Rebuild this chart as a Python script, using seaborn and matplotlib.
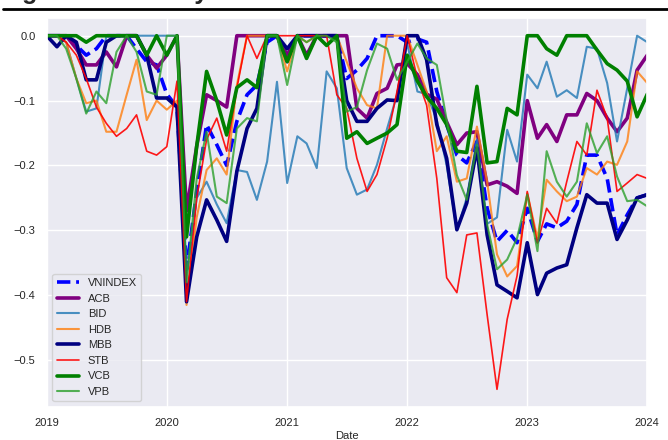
import matplotlib
matplotlib.use("Agg")
import matplotlib.pyplot as plt
import matplotlib.dates as mdates
from matplotlib.lines import Line2D
import seaborn as sns
import pandas as pd

sns.set_theme(style="darkgrid")
plt.rcParams["font.family"] = ["Liberation Sans", "DejaVu Sans"]

dates = pd.date_range("2019-01-01", "2024-01-01", freq="MS")

vnindex = [0, 0, 0, -0.015, -0.03, -0.02, 0, 0, 0, -0.02, -0.04, -0.045,
           -0.09, -0.11, -0.36, -0.24, -0.137, -0.168, -0.2, -0.132, -0.091, -0.076, -0.01, 0,
           -0.04, 0, 0, 0, 0, 0, -0.066, -0.053, -0.035, 0, 0, 0,
           -0.01, -0.005, -0.01, -0.086, -0.137, -0.184, -0.196, -0.163, -0.266, -0.317, -0.3, -0.319,
           -0.266, -0.317, -0.29, -0.296, -0.286, -0.26, -0.184, -0.184, -0.22, -0.307, -0.276, -0.25,
           -0.245]
acb = [0, 0, 0, -0.02, -0.045, -0.045, -0.025, -0.048, 0, 0, -0.03, -0.05,
       -0.03, 0, -0.27, -0.17, -0.091, -0.1, -0.11, 0, 0, 0, 0, 0,
       -0.03, 0, -0.03, 0, 0, 0, 0, -0.112, -0.127, -0.089, -0.081, -0.045,
       -0.043, -0.06, -0.09, -0.098, -0.133, -0.168, -0.15, -0.148, -0.23, -0.225, -0.232, -0.243,
       -0.1, -0.158, -0.137, -0.163, -0.122, -0.122, -0.089, -0.1, -0.127, -0.148, -0.127, -0.053,
       -0.03]
bid = [0, 0, -0.01, -0.066, -0.117, -0.112, 0, 0, 0, 0, 0, 0,
       0, 0, -0.37, -0.25, -0.225, -0.26, -0.289, -0.207, -0.21, -0.253, -0.194, -0.071,
       -0.227, -0.155, -0.166, -0.204, -0.055, -0.081, -0.204, -0.245, -0.237, -0.199, -0.143, -0.091,
       -0.012, -0.086, -0.09, -0.13, -0.2, -0.3, -0.25, -0.16, -0.29, -0.28, -0.145, -0.194,
       -0.06, -0.081, -0.04, -0.094, -0.084, -0.096, -0.017, -0.02, -0.073, -0.163, -0.081, 0,
       -0.01]
hdb = [0, 0, -0.01, -0.066, -0.104, -0.1, -0.148, -0.148, -0.091, -0.037, -0.13, -0.1,
       -0.114, -0.1, -0.415, -0.28, -0.207, -0.189, -0.214, -0.076, 0, 0, 0, 0,
       -0.055, 0, -0.01, 0, 0, 0, -0.04, -0.081, -0.107, -0.112, 0, 0,
       0, -0.045, -0.086, -0.178, -0.155, -0.225, -0.22, -0.14, -0.225, -0.337, -0.371, -0.355,
       -0.243, -0.312, -0.222, -0.24, -0.255, -0.248, -0.204, -0.214, -0.194, -0.199, -0.163, -0.055,
       -0.073]
mbb = [0, -0.017, 0, -0.01, -0.068, -0.068, -0.01, 0, 0, 0, -0.03, -0.096,
       -0.096, -0.11, -0.41, -0.31, -0.253, -0.284, -0.317, -0.209, -0.143, -0.112, 0, 0,
       -0.02, 0, 0, 0, 0, 0, -0.1, -0.132, -0.132, -0.112, -0.099, -0.1,
       0, 0, -0.037, -0.137, -0.189, -0.299, -0.258, -0.173, -0.307, -0.384, -0.394, -0.404,
       -0.319, -0.399, -0.366, -0.358, -0.353, -0.296, -0.245, -0.258, -0.258, -0.314, -0.284, -0.25,
       -0.245]
stb = [0, 0, -0.01, -0.03, -0.066, -0.11, -0.135, -0.155, -0.143, -0.122, -0.178, -0.184,
       -0.171, -0.07, -0.41, -0.25, -0.16, -0.127, -0.178, -0.081, 0, -0.035, 0, 0,
       0, 0, 0, 0, 0, -0.091, -0.112, -0.189, -0.24, -0.214, -0.158, -0.086,
       0, -0.066, -0.107, -0.22, -0.373, -0.396, -0.307, -0.304, -0.43, -0.545, -0.437, -0.37,
       -0.24, -0.32, -0.266, -0.289, -0.225, -0.163, -0.184, -0.084, -0.127, -0.24, -0.227, -0.214,
       -0.22]
vcb = [0, 0, 0, 0, -0.01, 0, 0, 0, 0, 0, -0.03, 0,
       -0.03, 0, -0.31, -0.17, -0.055, -0.1, -0.153, -0.08, -0.068, -0.08, 0, 0,
       -0.04, 0, -0.035, 0, -0.015, 0, -0.158, -0.148, -0.166, -0.158, -0.15, -0.137,
       -0.03, -0.07, -0.094, -0.112, -0.137, -0.178, -0.18, -0.078, -0.196, -0.194, -0.112, -0.122,
       0, 0, -0.02, -0.03, 0, 0, 0, -0.022, -0.043, -0.053, -0.07, -0.125,
       -0.09]
vpb = [0, 0, -0.02, -0.066, -0.12, -0.086, -0.104, -0.025, 0, -0.025, -0.086, -0.091,
       0, 0, -0.38, -0.22, -0.148, -0.248, -0.258, -0.143, -0.127, -0.132, 0, 0,
       -0.076, 0, -0.01, 0, 0, -0.01, -0.117, -0.11, -0.053, -0.012, -0.02, -0.068,
       -0.04, -0.012, -0.035, -0.045, -0.13, -0.215, -0.253, -0.168, -0.291, -0.36, -0.345, -0.312,
       -0.245, -0.332, -0.178, -0.225, -0.248, -0.225, -0.135, -0.181, -0.155, -0.217, -0.255, -0.253,
       -0.263]

# name, values, colour, width, style, alpha
series = [
    ("VNINDEX", vnindex, "blue", 2.6, "--", 1.0),
    ("ACB", acb, "purple", 2.6, "-", 1.0),
    ("BID", bid, "tab:blue", 1.5, "-", 0.8),
    ("HDB", hdb, "tab:orange", 1.5, "-", 0.8),
    ("MBB", mbb, "navy", 2.6, "-", 1.0),
    ("STB", stb, "red", 1.2, "-", 0.9),
    ("VCB", vcb, "green", 2.6, "-", 1.0),
    ("VPB", vpb, "tab:green", 1.5, "-", 0.8),
]

fig = plt.figure(figsize=(6.68, 4.4), dpi=100)
ax = fig.add_axes([0.070, 0.075, 0.899, 0.884])

for name, vals, color, lw, ls, a in series:
    sns.lineplot(x=dates, y=vals, ax=ax, color=color, linewidth=lw,
                 linestyle=ls, alpha=a, label=name)

ax.set_xlim(dates[0], dates[-1])
ax.xaxis.set_major_locator(mdates.YearLocator())
ax.xaxis.set_major_formatter(mdates.DateFormatter("%Y"))
ax.set_yticks([0.0, -0.1, -0.2, -0.3, -0.4, -0.5])
ax.tick_params(labelsize=8, pad=2)
ax.set_xlabel("Date", fontsize=8, labelpad=2)
ax.set_ylabel("")
ax.legend(loc="lower left", fontsize=8)

# title sits mostly above the crop, only its lower edge shows
fig.text(0.0, 1 + 1.5 / 440, "Figure 6: Monthly drawdown", fontsize=18,
         weight="bold", va="baseline", ha="left")
fig.add_artist(Line2D([0.005, 1.0], [1 - 8.7 / 440, 1 - 8.7 / 440],
                      transform=fig.transFigure, color="black", lw=2.0))

fig.savefig("out.png", dpi=100)
